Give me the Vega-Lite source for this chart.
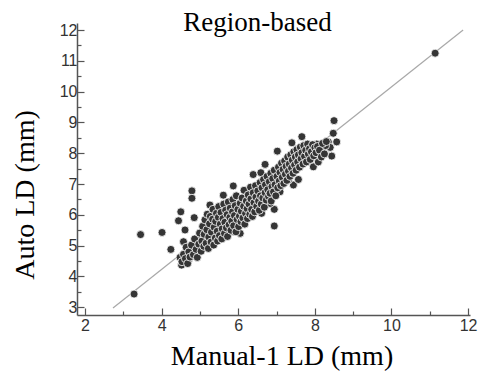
{
  "$schema": "https://vega.github.io/schema/vega-lite/v6.json",
  "width": 393,
  "height": 292,
  "autosize": "none",
  "padding": {"left": 77, "top": 23, "right": 8, "bottom": 69},
  "background": "white",
  "title": {"text": "Region-based", "font": "Liberation Serif", "fontSize": 27, "fontWeight": "normal", "color": "#000", "anchor": "middle", "dx": -16, "dy": 27, "offset": -9, "baseline": "alphabetic"},
  "config": {"view": {"stroke": null}, "axis": {"labelOverlap": false, "labelBound": false, "labelSeparation": 0}},
  "datasets": {
    "fit": [{"m": 2.73, "a": 2.98}, {"m": 11.87, "a": 12.0}],
    "pts": [
      {"m":3.28,"a":3.43},{"m":11.14,"a":11.25},{"m":3.45,"a":5.36},{"m":4.01,"a":5.43},{"m":4.24,"a":4.88},
      {"m":4.79,"a":6.78},{"m":4.79,"a":6.54},{"m":4.50,"a":6.10},{"m":4.44,"a":5.81},{"m":4.61,"a":5.51},{"m":4.85,"a":5.91},
      {"m":5.61,"a":6.64},{"m":5.87,"a":6.94},{"m":5.26,"a":6.32},{"m":4.57,"a":5.13},{"m":4.48,"a":4.62},{"m":4.52,"a":4.37},
      {"m":4.70,"a":4.53},{"m":4.79,"a":4.86},{"m":4.96,"a":5.18},{"m":5.13,"a":4.96},{"m":5.31,"a":5.13},{"m":5.87,"a":5.45},
      {"m":6.05,"a":5.40},{"m":5.39,"a":5.34},
      {"m":7.66,"a":8.54},{"m":7.40,"a":8.34},{"m":7.02,"a":8.07},{"m":8.05,"a":8.30},{"m":8.48,"a":8.65},{"m":8.35,"a":8.37},
      {"m":8.57,"a":8.37},{"m":8.44,"a":7.91},{"m":7.96,"a":7.56},{"m":8.09,"a":7.72},{"m":6.70,"a":7.64},{"m":6.39,"a":7.31},
      {"m":6.59,"a":7.37},{"m":7.44,"a":6.97},{"m":7.09,"a":6.75},{"m":6.94,"a":6.18},{"m":6.94,"a":5.64},{"m":6.61,"a":6.05},
      {"m":6.83,"a":6.37},{"m":7.57,"a":7.15},{"m":7.31,"a":7.13},{"m":8.50,"a":9.06},{"m":8.31,"a":8.19},{"m":8.40,"a":8.19},
      {"m":8.22,"a":8.05},{"m":8.28,"a":8.25},{"m":8.15,"a":7.95},
      {"m":4.53,"a":4.48},{"m":4.57,"a":4.72},{"m":4.62,"a":4.58},{"m":4.64,"a":4.95},{"m":4.68,"a":4.42},{"m":4.71,"a":4.80},
      {"m":4.74,"a":4.63},{"m":4.78,"a":5.02},{"m":4.83,"a":4.71},{"m":4.86,"a":5.22},{"m":4.90,"a":4.88},{"m":4.93,"a":4.62},
      {"m":4.97,"a":5.05},{"m":4.99,"a":5.41},
      {"m":5.03,"a":4.82},{"m":5.05,"a":5.15},{"m":5.07,"a":5.63},{"m":5.10,"a":4.98},{"m":5.11,"a":5.37},{"m":5.13,"a":5.84},
      {"m":5.16,"a":5.08},{"m":5.18,"a":5.52},{"m":5.19,"a":6.02},{"m":5.22,"a":4.91},{"m":5.23,"a":5.28},{"m":5.25,"a":5.71},
      {"m":5.27,"a":5.95},{"m":5.29,"a":5.12},{"m":5.30,"a":5.44},{"m":5.33,"a":5.86},{"m":5.34,"a":6.18},{"m":5.36,"a":5.02},
      {"m":5.37,"a":5.60},{"m":5.40,"a":5.25},{"m":5.41,"a":5.79},{"m":5.43,"a":6.05},{"m":5.45,"a":5.47},{"m":5.46,"a":5.15},
      {"m":5.48,"a":5.92},{"m":5.49,"a":6.27},
      {"m":5.51,"a":5.33},{"m":5.53,"a":5.70},{"m":5.55,"a":6.08},{"m":5.57,"a":5.22},{"m":5.58,"a":5.55},{"m":5.60,"a":5.88},
      {"m":5.62,"a":6.35},{"m":5.64,"a":5.40},{"m":5.65,"a":5.76},{"m":5.67,"a":6.15},{"m":5.69,"a":5.58},{"m":5.71,"a":6.01},
      {"m":5.72,"a":5.30},{"m":5.74,"a":6.42},{"m":5.76,"a":5.68},{"m":5.78,"a":5.92},{"m":5.79,"a":6.22},{"m":5.81,"a":5.50},
      {"m":5.83,"a":5.80},{"m":5.85,"a":6.10},{"m":5.86,"a":6.50},{"m":5.88,"a":5.65},{"m":5.90,"a":5.98},{"m":5.92,"a":6.30},
      {"m":5.94,"a":5.45},{"m":5.95,"a":6.62},{"m":5.97,"a":5.85},{"m":5.99,"a":6.18},
      {"m":6.01,"a":5.62},{"m":6.03,"a":5.96},{"m":6.05,"a":6.38},{"m":6.07,"a":5.78},{"m":6.08,"a":6.12},{"m":6.10,"a":6.55},
      {"m":6.12,"a":5.90},{"m":6.14,"a":6.28},{"m":6.15,"a":6.80},{"m":6.17,"a":5.70},{"m":6.19,"a":6.05},{"m":6.21,"a":6.45},
      {"m":6.23,"a":6.20},{"m":6.24,"a":5.88},{"m":6.26,"a":6.65},{"m":6.28,"a":6.35},{"m":6.30,"a":6.02},{"m":6.32,"a":6.90},
      {"m":6.33,"a":6.52},{"m":6.35,"a":6.18},{"m":6.37,"a":5.95},{"m":6.39,"a":6.72},{"m":6.41,"a":6.40},{"m":6.43,"a":6.10},
      {"m":6.45,"a":6.95},{"m":6.46,"a":6.58},{"m":6.48,"a":6.28},
      {"m":6.51,"a":6.78},{"m":6.53,"a":6.45},{"m":6.55,"a":6.15},{"m":6.57,"a":7.05},{"m":6.58,"a":6.62},{"m":6.60,"a":6.35},
      {"m":6.62,"a":6.88},{"m":6.64,"a":6.55},{"m":6.66,"a":7.15},{"m":6.68,"a":6.25},{"m":6.70,"a":6.72},{"m":6.71,"a":6.98},
      {"m":6.73,"a":6.48},{"m":6.75,"a":7.25},{"m":6.77,"a":6.82},{"m":6.79,"a":6.60},{"m":6.81,"a":7.08},{"m":6.83,"a":6.70},
      {"m":6.85,"a":7.35},{"m":6.86,"a":6.45},{"m":6.88,"a":6.92},{"m":6.90,"a":7.18},{"m":6.92,"a":6.75},{"m":6.94,"a":7.45},
      {"m":6.96,"a":6.98},{"m":6.98,"a":6.62},
      {"m":7.01,"a":7.25},{"m":7.03,"a":6.88},{"m":7.05,"a":7.55},{"m":7.07,"a":7.10},{"m":7.09,"a":7.38},{"m":7.11,"a":6.95},
      {"m":7.13,"a":7.68},{"m":7.15,"a":7.22},{"m":7.17,"a":7.48},{"m":7.19,"a":7.02},{"m":7.21,"a":7.75},{"m":7.23,"a":7.32},
      {"m":7.25,"a":7.58},{"m":7.27,"a":7.12},{"m":7.29,"a":7.88},{"m":7.31,"a":7.42},{"m":7.33,"a":7.65},{"m":7.35,"a":7.25},
      {"m":7.37,"a":7.95},{"m":7.39,"a":7.52},{"m":7.41,"a":7.78},{"m":7.43,"a":7.35},{"m":7.45,"a":8.05},{"m":7.47,"a":7.62},
      {"m":7.49,"a":7.88},
      {"m":7.51,"a":7.45},{"m":7.53,"a":8.12},{"m":7.55,"a":7.72},{"m":7.57,"a":7.95},{"m":7.60,"a":7.55},{"m":7.62,"a":8.20},
      {"m":7.64,"a":7.82},{"m":7.66,"a":8.02},{"m":7.69,"a":7.65},{"m":7.71,"a":8.25},{"m":7.73,"a":7.90},{"m":7.76,"a":8.10},
      {"m":7.78,"a":7.72},{"m":7.81,"a":8.30},{"m":7.83,"a":7.98},{"m":7.86,"a":8.15},{"m":7.88,"a":7.80},{"m":7.91,"a":8.05},
      {"m":7.94,"a":8.28},{"m":7.97,"a":7.92},{"m":8.00,"a":8.18},{"m":8.03,"a":8.02},{"m":8.07,"a":8.22},{"m":8.12,"a":8.10},
      {"m":8.17,"a":7.88},{"m":8.20,"a":8.32},{"m":8.25,"a":7.98},{"m":8.30,"a":8.38}
    ]
  },
  "encoding": {
    "x": {
      "field": "m", "type": "quantitative",
      "scale": {"domain": [1.79, 12.05], "nice": false, "zero": false},
      "axis": {
        "values": [2,3,4,5,6,7,8,9,10,11,12],
        "labelExpr": "datum.value % 2 === 0 ? datum.label : ''",
        "format": "d",
        "grid": false, "labelFlush": false, "labelOverlap": false,
        "domainColor": "#555", "domainWidth": 1.5,
        "tickColor": "#555", "tickWidth": 1.2,
        "tickSize": {"condition": {"test": "datum.value % 2 === 0", "value": -7}, "value": -4},
        "labelFont": "Liberation Sans", "labelFontSize": 16, "labelColor": "#333", "labelPadding": 9,
        "title": "Manual-1 LD (mm)", "titleFont": "Liberation Serif", "titleFontSize": 28, "titleFontWeight": "normal", "titleColor": "#000",
        "titleX": 204.5, "titleY": 49, "titleAlign": "center", "titleBaseline": "alphabetic"
      }
    },
    "y": {
      "field": "a", "type": "quantitative",
      "scale": {"domain": [2.75, 12.23], "nice": false, "zero": false},
      "axis": {
        "values": [3,3.5,4,4.5,5,5.5,6,6.5,7,7.5,8,8.5,9,9.5,10,10.5,11,11.5,12],
        "labelExpr": "datum.value % 1 === 0 ? format(datum.value, 'd') : ''",
        "grid": false, "labelFlush": false, "labelOverlap": false,
        "domainColor": "#555", "domainWidth": 1.5,
        "tickColor": "#555", "tickWidth": 1.2,
        "tickSize": {"condition": {"test": "datum.value % 1 === 0", "value": -7}, "value": -4},
        "labelFont": "Liberation Sans", "labelFontSize": 16, "labelColor": "#333", "labelPadding": 7,
        "title": "Auto LD (mm)", "titleFont": "Liberation Serif", "titleFontSize": 28, "titleFontWeight": "normal", "titleColor": "#000",
        "titleX": -44, "titleY": 171.5, "titleAlign": "center", "titleBaseline": "alphabetic", "titleAngle": -90
      }
    }
  },
  "layer": [
    {
      "data": {"name": "fit"},
      "mark": {"type": "line", "color": "#a8a8a8", "strokeWidth": 1.2}
    },
    {
      "data": {"name": "pts"},
      "mark": {"type": "point", "filled": true, "shape": "circle", "size": 64, "color": "#353535", "opacity": 1, "stroke": "#ffffff", "strokeWidth": 0.8}
    }
  ]
}
